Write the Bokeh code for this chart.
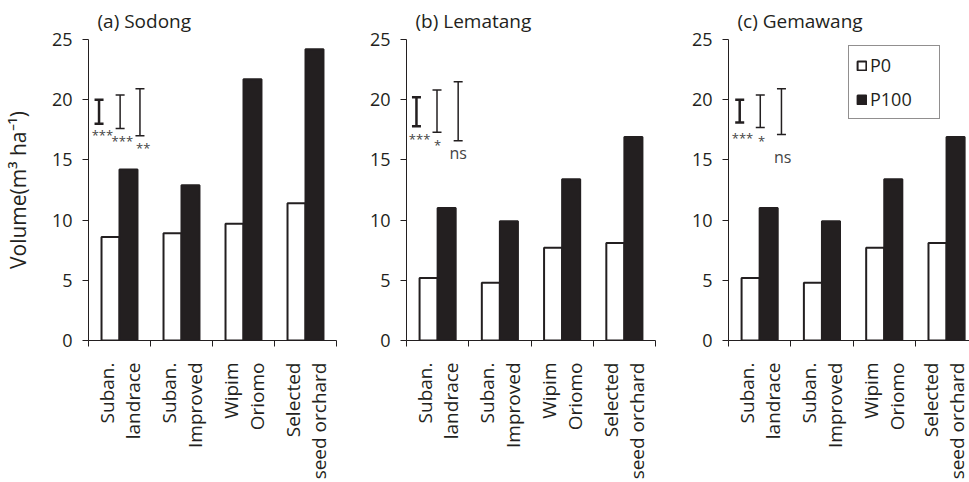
import math
import numpy as np
from bokeh.plotting import figure
from bokeh.layouts import row
from bokeh.models import Range1d, FixedTicker, ColumnDataSource, Legend, LegendItem
from bokeh.transform import dodge
from bokeh.core.properties import value
from bokeh.embed import file_html
from bokeh.resources import INLINE

# ---------------- data ----------------
categories = ["Suban.\nlandrace", "Suban.\nImproved", "Wipim\nOriomo", "Selected\nseed orchard"]
sites = ["(a) Sodong", "(b) Lematang", "(c) Gemawang"]
series_names = ["P0", "P100"]

p0_sodong = [8.6, 8.9, 9.7, 11.4]
p100_sodong = [14.2, 12.9, 21.7, 24.2]
p0_lematang = [5.2, 4.8, 7.7, 8.1]
p100_lematang = [11.0, 9.9, 13.4, 16.9]
p0_gemawang = [5.2, 4.8, 7.7, 8.1]
p100_gemawang = [11.0, 9.9, 13.4, 16.9]

# LSD bars (lower / upper ends)
lsd_low_sodong = [18.0, 17.6, 17.0]
lsd_high_sodong = [20.0, 20.4, 20.9]
lsd_low_lematang = [17.8, 17.3, 16.6]
lsd_high_lematang = [20.2, 20.8, 21.5]
lsd_low_gemawang = [18.1, 17.7, 17.1]
lsd_high_gemawang = [20.0, 20.4, 20.9]

sig_sodong = ["***", "***", "**"]
sig_lematang = ["***", "*", "ns"]
sig_gemawang = ["***", "*", "ns"]

y_ticks = [0, 5, 10, 15, 20, 25]

# ---------------- layout / style ----------------
FONT = "Open Sans"
DARK = "#231f20"
H = 482
TOP = 37
FRAME_H = 303
widths = [342, 319, 308]
borders_left = [87, 64, 67]
borders_right = [6, 6, 0]
x_max = [4.0, 4.0, 241 / 62.3]
lsd_x = [[0.17, 0.51, 0.83], [0.16, 0.49, 0.83], [0.18, 0.51, 0.85]]
lsd_w = [2.5, 1.5, 1.5]
sig_x = [[0.225, 0.546, 0.883], [0.21, 0.50, 0.83], [0.225, 0.53, 0.87]]
sig_y = [[17.1, 16.6, 16.0], [16.7, 16.2, 15.6], [16.8, 16.6, 15.2]]

panels = [
    (p0_sodong, p100_sodong, lsd_low_sodong, lsd_high_sodong, sig_sodong),
    (p0_lematang, p100_lematang, lsd_low_lematang, lsd_high_lematang, sig_lematang),
    (p0_gemawang, p100_gemawang, lsd_low_gemawang, lsd_high_gemawang, sig_gemawang),
]

figs = []
for i, (p0, p100, lo, hi, sig) in enumerate(panels):
    p = figure(width=widths[i], height=H, x_range=Range1d(0, x_max[i]), y_range=Range1d(0, 25),
               output_backend="svg", toolbar_location=None,
               min_border_left=borders_left[i], min_border_right=borders_right[i],
               min_border_top=TOP, min_border_bottom=H - TOP - FRAME_H)
    p.xgrid.visible = False
    p.ygrid.visible = False
    p.outline_line_color = None
    p.background_fill_color = None
    p.border_fill_color = None

    p.title.text = sites[i]
    p.title.text_font = FONT
    p.title.text_font_size = "19px"
    p.title.text_font_style = "normal"
    p.title.text_color = DARK
    p.title.offset = 9
    p.title.standoff = 11

    xs = [k + 0.5 for k in range(len(categories))]
    src = ColumnDataSource(dict(x=xs, p0=p0, p100=p100))
    r0 = p.vbar(x=dodge("x", -0.145, range=p.x_range), top="p0", width=0.29, source=src,
                fill_color="white", line_color=DARK, line_width=2)
    r1 = p.vbar(x=dodge("x", 0.145, range=p.x_range), top="p100", width=0.29, source=src,
                fill_color=DARK, line_color=DARK, line_width=2)

    # LSD bars
    lsrc = ColumnDataSource(dict(x=lsd_x[i], lo=lo, hi=hi, lw=lsd_w))
    p.segment(x0="x", x1="x", y0="lo", y1="hi", line_width="lw", line_color=DARK, source=lsrc)
    p.scatter(x="x", y="lo", marker="dash", size=9, line_width="lw", line_color=DARK, source=lsrc)
    p.scatter(x="x", y="hi", marker="dash", size=9, line_width="lw", line_color=DARK, source=lsrc)

    fs = ["16px" if s == "ns" else "13px" for s in sig]
    tsrc = ColumnDataSource(dict(x=sig_x[i], y=sig_y[i], t=sig, fs=fs))
    p.text(x="x", y="y", text="t", text_font_size="fs", source=tsrc, text_font=value(FONT),
           text_align="center", text_baseline="middle", text_color="#444444")

    # x axis
    xa = p.xaxis[0]
    xa.ticker = FixedTicker(ticks=xs, minor_ticks=list(range(len(categories) + 1)))
    xa.major_label_overrides = {x: c for x, c in zip(xs, categories)}
    xa.major_label_orientation = math.pi / 2
    xa.major_tick_line_color = None
    xa.major_tick_out = 0
    xa.major_tick_in = 0
    xa.minor_tick_line_color = DARK
    xa.minor_tick_out = 6
    xa.minor_tick_in = 0
    xa.major_label_standoff = 16
    xa.major_label_text_font = FONT
    xa.major_label_text_font_size = "19px"
    xa.major_label_text_color = DARK
    xa.major_label_text_line_height = 1.0
    xa.axis_line_color = DARK

    ya = p.yaxis[0]
    ya.ticker = FixedTicker(ticks=y_ticks)
    ya.minor_tick_line_color = None
    ya.major_tick_out = 6
    ya.major_tick_in = 0
    ya.major_tick_line_color = DARK
    ya.major_label_standoff = 10
    ya.major_label_text_font = FONT
    ya.major_label_text_font_size = "18px"
    ya.major_label_text_color = DARK
    ya.axis_line_color = DARK
    if i == 0:
        ya.axis_label = "Volume(m³ ha⁻¹)"
        ya.axis_label_text_font = FONT
        ya.axis_label_text_font_size = "21px"
        ya.axis_label_text_font_style = "normal"
        ya.axis_label_text_color = DARK
        ya.axis_label_standoff = 17

    if i == 2:
        leg = Legend(items=[LegendItem(label=series_names[0], renderers=[r0]),
                            LegendItem(label=series_names[1], renderers=[r1])],
                     location=(120, 221))
        leg.border_line_color = DARK
        leg.border_line_width = 1.5
        leg.background_fill_color = "white"
        leg.padding = 7
        leg.spacing = 10
        leg.margin = 0
        leg.glyph_width = 11
        leg.glyph_height = 11
        leg.label_standoff = 3
        leg.label_width = 62
        leg.label_text_font = FONT
        leg.label_text_font_size = "18px"
        leg.label_text_color = DARK
        p.add_layout(leg)
    figs.append(p)

layout = row(*figs, spacing=0)
open("out.html", "w").write(file_html(layout, INLINE))
